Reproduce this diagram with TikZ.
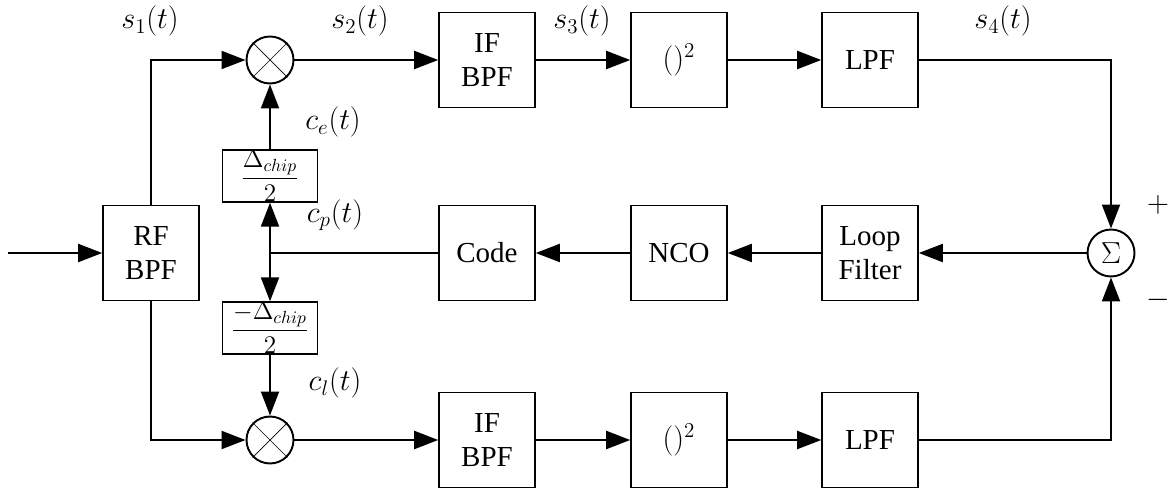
\documentclass[tikz,border=0pt]{standalone}
\usepackage{amsmath}
\usepackage{fontspec}
\setmainfont{Liberation Serif}
\usetikzlibrary{arrows.meta}

\begin{document}
\begin{tikzpicture}[x=0.02cm, y=-0.02cm,
						every node/.style={font=\fontsize{16.5}{19}\selectfont},
						block/.style={draw, line width=0.9pt, minimum width=1.92cm, minimum height=1.9cm, align=center},
						delay/.style={draw, line width=0.9pt, minimum width=1.9cm, minimum height=0.98cm, inner sep=0pt, font=\fontsize{14.4}{16}\selectfont},
						mixer/.style={draw, circle, line width=1.1pt, minimum size=0.94cm, inner sep=0pt},
						sig/.style={line width=1.1pt, -{Triangle[length=0.48cm,width=0.36cm]}},
						wire/.style={line width=1.1pt},
					]
					\useasboundingbox (0,0) rectangle (1169,496);

					% front end
					\coordinate (in) at (8,253);
					\node[block] (rf) at (151,253) {RF\\BPF};

					% early branch
					\node[mixer] (mxe) at (270,60) {};
					\node[block] (ife) at (487,60) {IF\\BPF};
					\node[block] (sqe) at (679,60) {$()^2$};
					\node[block] (lpfe) at (870,60) {LPF};

					% late branch
					\node[mixer] (mxl) at (270,440) {};
					\node[block] (ifl) at (487,440) {IF\\BPF};
					\node[block] (sql) at (679,440) {$()^2$};
					\node[block] (lpfl) at (870,440) {LPF};

					% loop
					\node[mixer] (sum) at (1111,253) {$\Sigma$};
					\node[block] (lf) at (870,253) {Loop\\Filter};
					\node[block] (nco) at (679,253) {NCO};
					\node[block] (code) at (487,253) {Code};
					\coordinate (cp) at (270,253);
					\node[delay] (dle) at (270,176) {$\dfrac{\Delta_{chip}}{2}$};
					\node[delay] (dll) at (270,328) {$\dfrac{-\Delta_{chip}}{2}$};

					\draw (mxe.north west) -- (mxe.south east) (mxe.north east) -- (mxe.south west);
					\draw (mxl.north west) -- (mxl.south east) (mxl.north east) -- (mxl.south west);

					% labels
					\node at (150,21) {$s_1(t)$};
					\node at (360,21) {$s_2(t)$};
					\node at (582,21) {$s_3(t)$};
					\node at (1003,21) {$s_4(t)$};
					\node at (333,122) {$c_e(t)$};
					\node at (335,215) {$c_p(t)$};
					\node at (335,383) {$c_l(t)$};
					\node at (1158,205) {$+$};
					\node at (1158,300) {$-$};

					\draw[sig] (in) -- (rf);
					\draw[sig] (rf.north) |- (mxe.west);
					\draw[sig] (rf.south) |- (mxl.west);
					\draw[sig] (mxe) -- (ife);
					\draw[sig] (ife) -- (sqe);
					\draw[sig] (sqe) -- (lpfe);
					\draw[sig] (mxl) -- (ifl);
					\draw[sig] (ifl) -- (sql);
					\draw[sig] (sql) -- (lpfl);
					\draw[sig] (lpfe.east) -| (sum.north);
					\draw[sig] (lpfl.east) -| (sum.south);
					\draw[sig] (sum) -- (lf);
					\draw[sig] (lf) -- (nco);
					\draw[sig] (nco) -- (code);
					\draw[wire] (code.west) -- (cp);
					\draw[sig] (cp) -- (dle.south);
					\draw[sig] (cp) -- (dll.north);
					\draw[sig] (dle.north) -- (mxe.south);
					\draw[sig] (dll.south) -- (mxl.north);
				\end{tikzpicture}
\end{document}
